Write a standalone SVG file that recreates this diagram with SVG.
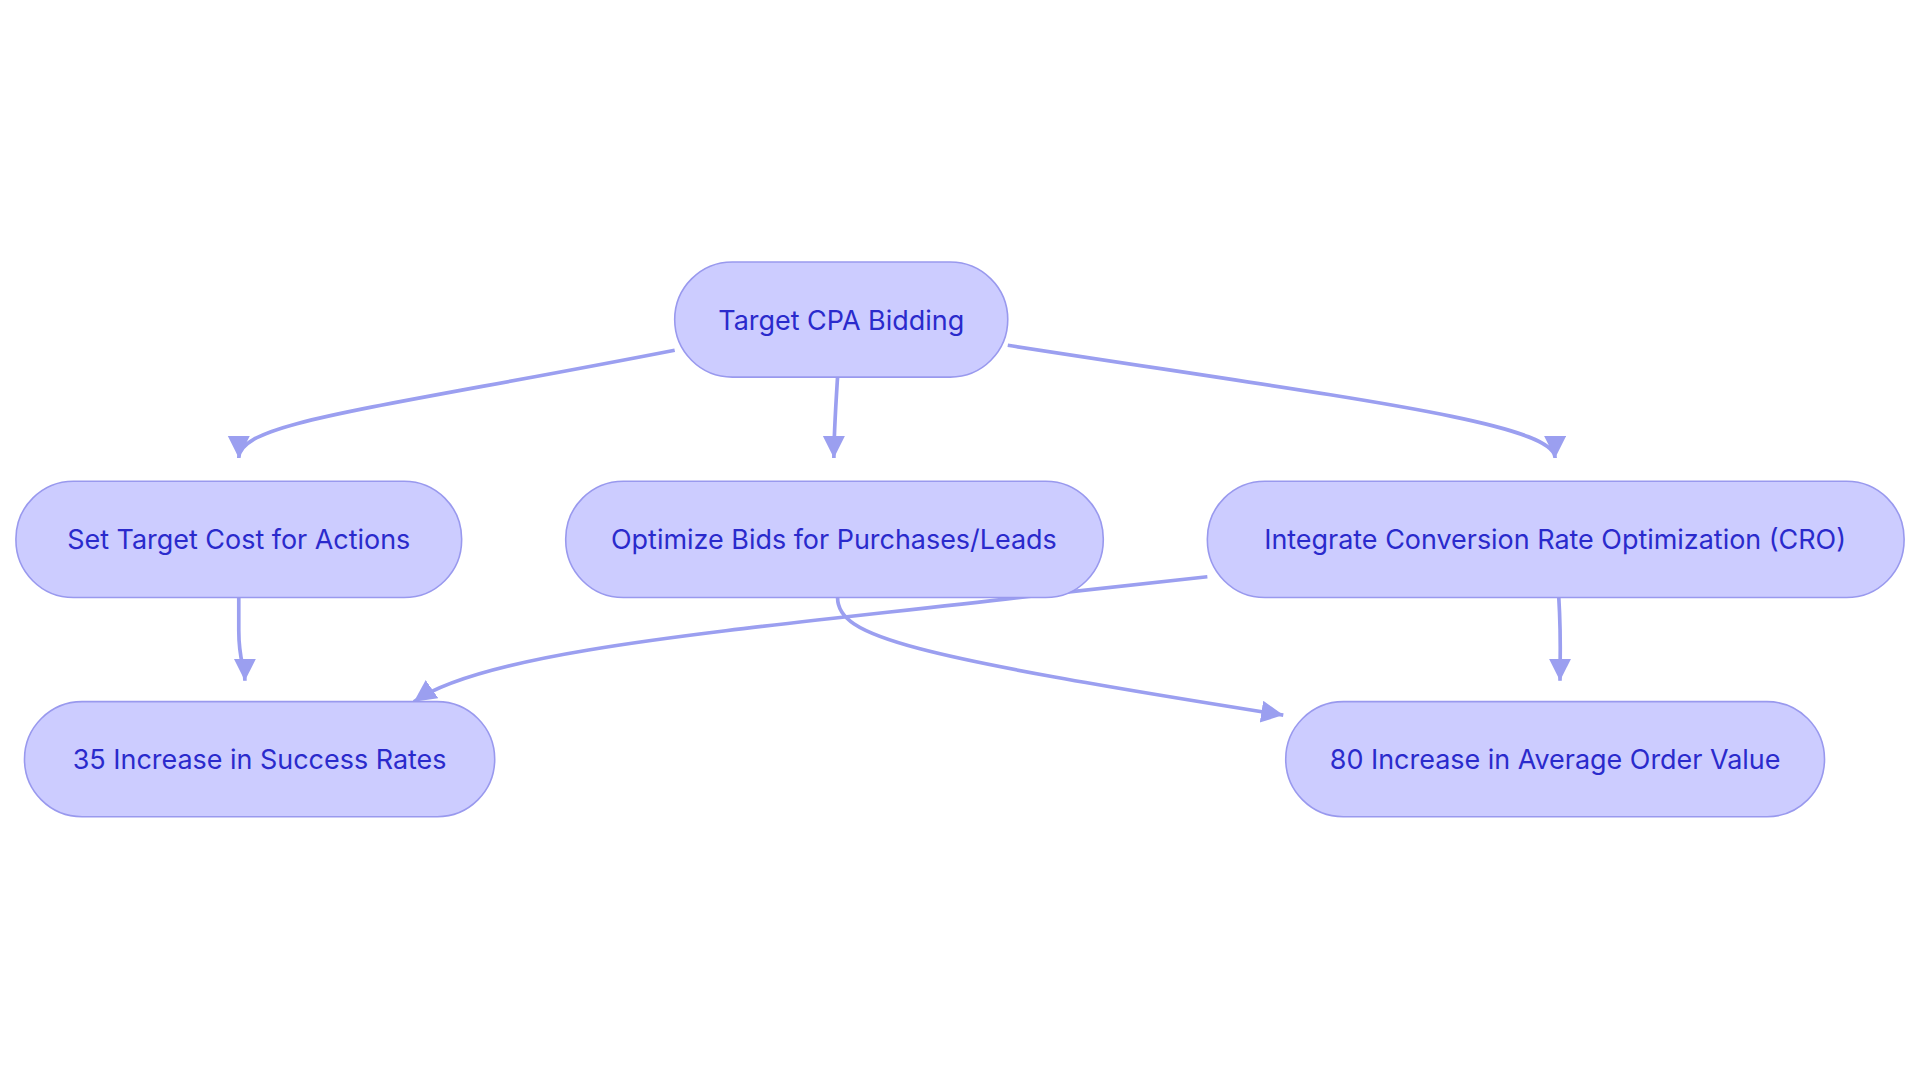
<svg xmlns="http://www.w3.org/2000/svg" width="1920" height="1083" viewBox="0 0 1920 1083">
<style>
.n rect{fill:#ccccff;stroke:#9999ee;stroke-width:1.3}
.n text{font-family:Inter,"Open Sans",sans-serif;font-size:22px;fill:#2a2acc;text-anchor:middle;dominant-baseline:central}
.e path{fill:none;stroke:#9b9ff0;stroke-width:3}
</style>
<defs><marker id="a" markerUnits="userSpaceOnUse" markerWidth="24" markerHeight="24" refX="18" refY="9" orient="auto"><path d="M0,0 L18,9 L0,18 Z" fill="#9b9ff0"/></marker></defs>
<rect width="1920" height="1083" fill="#fff"/>
<g transform="scale(1.2245)">
<g class="e">
<path d="M551,286 C300,335 195,345 195,374" marker-end="url(#a)"/>
<path d="M684,308 C682,340 681,355 681,374" marker-end="url(#a)"/>
<path d="M823,282 C1100,325 1270,345 1270,374" marker-end="url(#a)"/>
<path d="M195,488 L195,515 C195,540 200,545 200,556" marker-end="url(#a)"/>
<path d="M986,471 L840,487 C600,515 400,530 338,573" marker-end="url(#a)"/>
<path d="M684,488 C684,520 740,535 1048,584" marker-end="url(#a)"/>
<path d="M1273,488 C1275,520 1274,540 1274,556" marker-end="url(#a)"/>
</g>
<g id="n1" class="n"><rect x="551" y="214" width="272" height="94" rx="47"/><text x="687" y="261">Target CPA Bidding</text></g>
<g id="n2" class="n"><rect x="13" y="393" width="364" height="95" rx="47"/><text x="195" y="440">Set Target Cost for Actions</text></g>
<g id="n3" class="n"><rect x="462" y="393" width="439" height="95" rx="47"/><text x="681" y="440">Optimize Bids for Purchases/Leads</text></g>
<g id="n4" class="n"><rect x="986" y="393" width="569" height="95" rx="47"/><text x="1270" y="440">Integrate Conversion Rate Optimization (CRO)</text></g>
<g id="n5" class="n"><rect x="20" y="573" width="384" height="94" rx="47"/><text x="212" y="620">35 Increase in Success Rates</text></g>
<g id="n6" class="n"><rect x="1050" y="573" width="440" height="94" rx="47"/><text x="1270" y="620">80 Increase in Average Order Value</text></g>
</g>
</svg>
